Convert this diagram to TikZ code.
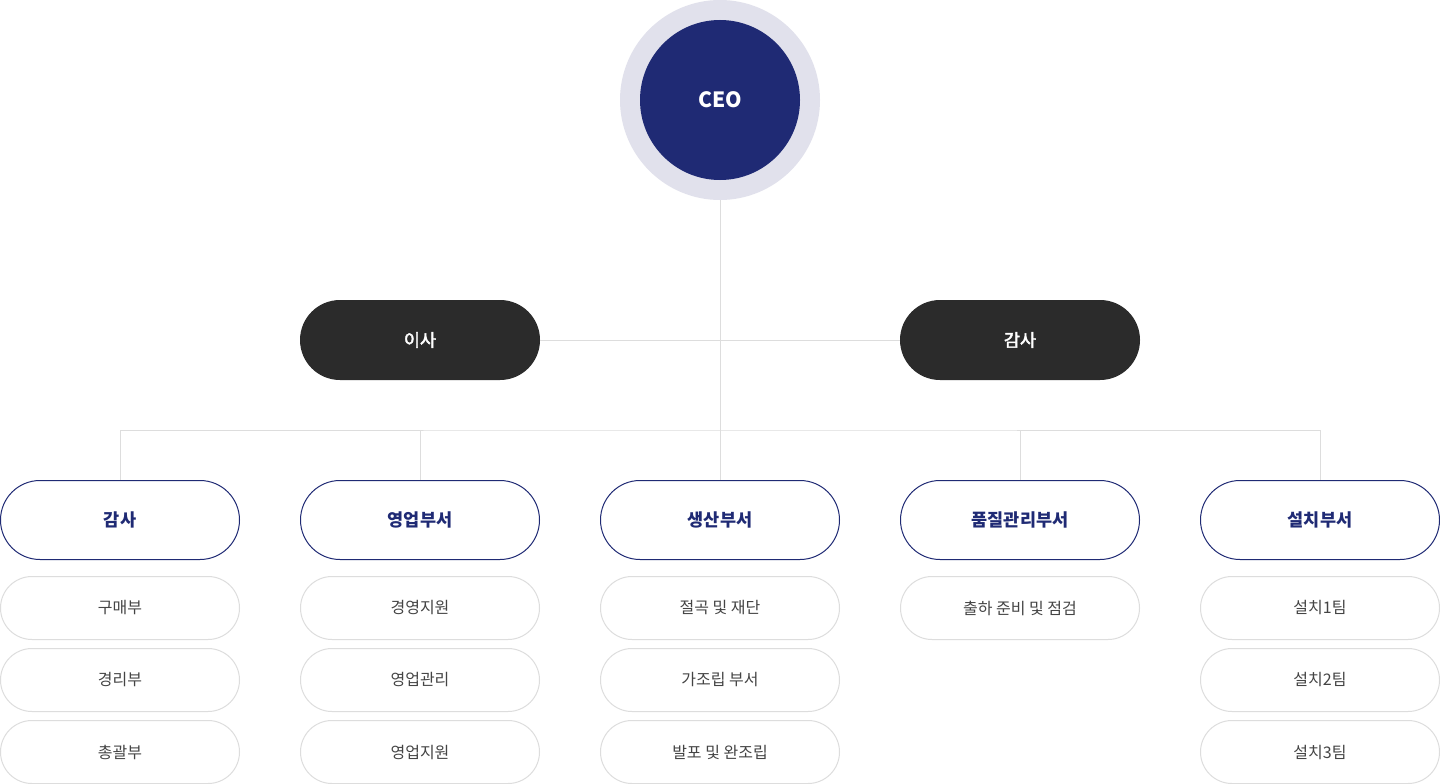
\documentclass[tikz,border=0pt]{standalone}
\usepackage{fontspec}
\setmainfont{Noto Sans CJK KR}
\newfontfamily\medfont{Noto Sans CJK KR}[FakeBold=2.5]
\definecolor{navy}{HTML}{1F2A74}
\definecolor{ring}{HTML}{E1E1EC}
\definecolor{darkpill}{HTML}{2B2B2B}
\definecolor{linegray}{HTML}{DDDDDD}
\definecolor{subtext}{HTML}{444444}
\begin{document}
\begin{tikzpicture}[x=1pt,y=-1pt,
  conn/.style={draw=linegray,line width=1pt},
  darkbox/.style={fill=darkpill,text=white,rounded corners=40pt,minimum width=240pt,minimum height=80pt,inner sep=0pt,font=\medfont\fontsize{17.5}{20}\selectfont},
  deptbox/.style={draw=navy,fill=white,line width=1pt,text=navy,rounded corners=39.5pt,minimum width=239pt,minimum height=79pt,inner sep=0pt,font=\fontsize{17.5}{20}\selectfont\bfseries},
  subbox/.style={draw=linegray,fill=white,line width=1pt,text=subtext,rounded corners=31.5pt,minimum width=239pt,minimum height=63pt,inner sep=0pt,font=\fontsize{16}{18}\selectfont},
]
\useasboundingbox (0,0) rectangle (1440,784);
\fill[white] (0,0) rectangle (1440,784);
\coordinate (hub) at (720,430);
\node[circle,fill=ring,minimum size=200pt,inner sep=0pt] (ceoring) at (720,100) {};
\node[darkbox] (isa) at (420,340) {이사};
\node[darkbox] (gamsa) at (1020,340) {감사};
\node[deptbox] (d1) at (120,520) {감사};
\node[deptbox] (d2) at (420,520) {영업부서};
\node[deptbox] (d3) at (720,520) {생산부서};
\node[deptbox] (d4) at (1020,520) {품질관리부서};
\node[deptbox] (d5) at (1320,520) {설치부서};
% connectors
\draw[conn] (ceoring.south) -- (hub);
\draw[conn] (isa.east) -- (gamsa.west);
\draw[conn] (d1.north) |- (hub) -| (d5.north);
\draw[conn] (d2.north) -- (d2.north |- hub);
\draw[conn] (d3.north) -- (hub);
\draw[conn] (d4.north) -- (d4.north |- hub);
\node[circle,fill=navy,minimum size=160pt,inner sep=0pt,text=white,font=\fontsize{21}{26}\selectfont\bfseries] (ceo) at (720,100) {CEO};
% sub boxes
\node[subbox] (s11) at (120,608) {구매부};
\node[subbox] (s12) at (120,680) {경리부};
\node[subbox] (s13) at (120,752) {총괄부};
\node[subbox] (s21) at (420,608) {경영지원};
\node[subbox] (s22) at (420,680) {영업관리};
\node[subbox] (s23) at (420,752) {영업지원};
\node[subbox] (s31) at (720,608) {절곡 및 재단};
\node[subbox] (s32) at (720,680) {가조립 부서};
\node[subbox] (s33) at (720,752) {발포 및 완조립};
\node[subbox] (s41) at (1020,608) {출하 준비 및 점검};
\node[subbox] (s51) at (1320,608) {설치1팀};
\node[subbox] (s52) at (1320,680) {설치2팀};
\node[subbox] (s53) at (1320,752) {설치3팀};
\end{tikzpicture}
\end{document}
